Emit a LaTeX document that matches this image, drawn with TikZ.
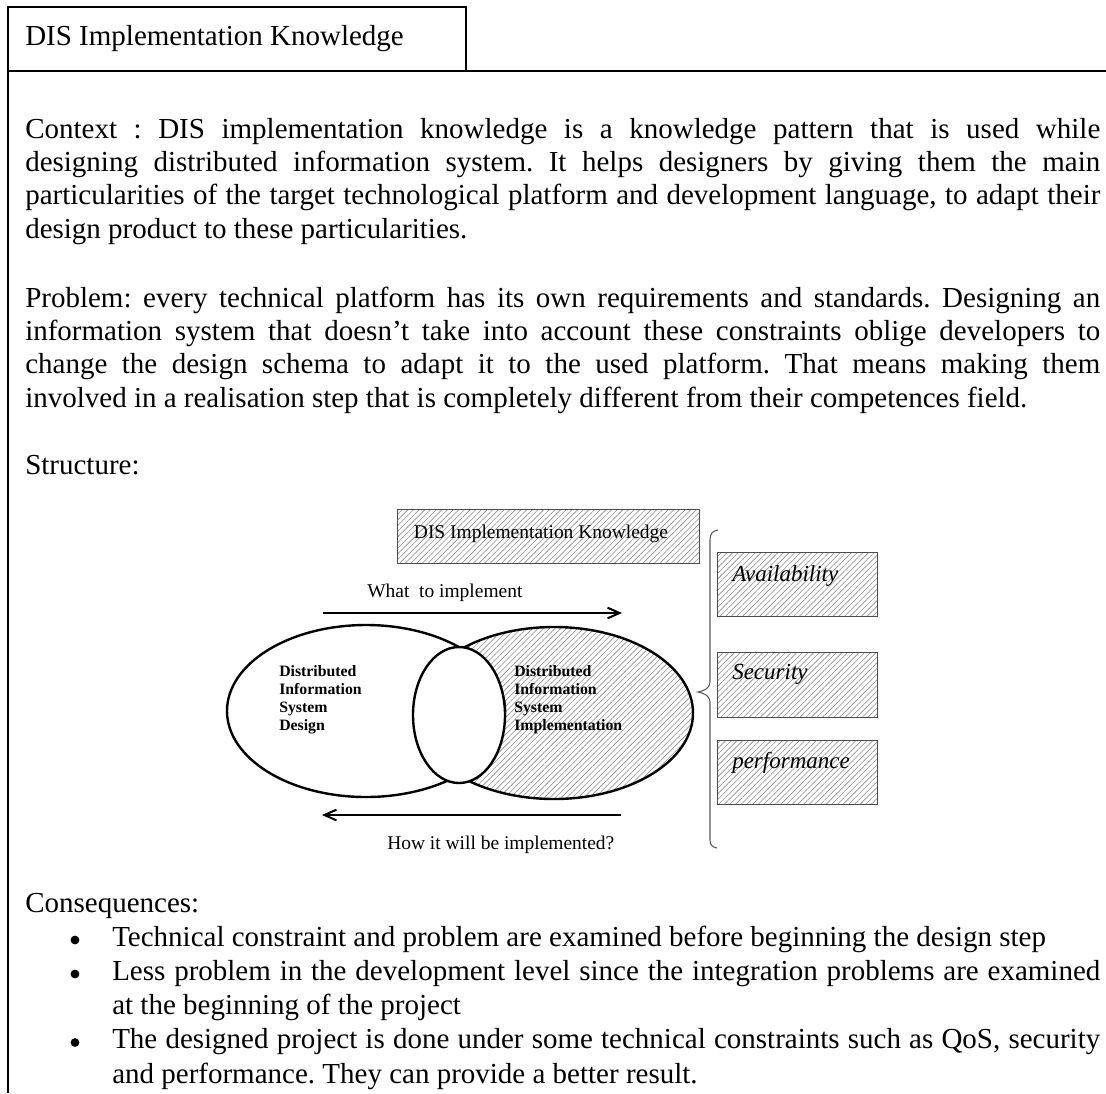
\documentclass[tikz,border=0pt]{standalone}
\usepackage{fontspec}
\setmainfont{Liberation Serif}
\usetikzlibrary{arrows.meta,patterns.meta,shapes.geometric}

% one justified line of the running text, and one inside a list item
\newcommand\jl[1]{\makebox[806.25pt][s]{#1}}
\newcommand\jli[1]{\makebox[741pt][s]{#1}}

\tikzset{
  body/.style={font=\frenchspacing\fontsize{21.75}{25.1}\selectfont, inner sep=0pt, anchor=base west},
  listtext/.style={font=\frenchspacing\fontsize{21.75}{25.6}\selectfont, inner sep=0pt, anchor=base west},
  bulletdot/.style={circle, fill=black, inner sep=0pt, minimum size=6.6pt},
  frame/.style={line width=1pt, draw=black},
  hatched/.style={pattern={Lines[angle=45,distance=3pt,line width=0.45pt]}, pattern color=black!45},
  hatchbox/.style={draw=black!70, line width=0.8pt, hatched, inner sep=0pt, anchor=north west},
  figlabel/.style={font=\fontsize{14.6}{17}\selectfont, inner sep=0pt},
  figbold/.style={font=\bfseries\fontsize{11.85}{13.5}\selectfont, inner sep=0pt, anchor=base west},
  quality/.style={font=\itshape\fontsize{17.25}{20}\selectfont, inner sep=0pt, anchor=base west},
  oval/.style={ellipse, draw=black, line width=1.8pt, inner sep=0pt},
  flow/.style={line width=1.5pt, -{Straight Barb[length=9pt,width=8pt,line width=1.5pt]}},
  brace/.style={draw=black!65, line width=0.8pt},
}

\begin{document}
\begin{tikzpicture}[x=0.75pt, y=-0.75pt]
\useasboundingbox (0,0) rectangle (1106,1093);

% ---- tab and frame of the pattern sheet
\draw[frame] (8,7) rectangle (466,71);
\draw[frame] (1106,71) -- (8,71) -- (8,1093);
\node[body] (title) at (25,45) {DIS Implementation Knowledge};

% ---- context
\node[body] (context) at (25,138) {\parbox[t]{806.25pt}{%
\jl{Context : DIS implementation knowledge is a knowledge pattern that is used while}\\
\jl{designing distributed information system. It helps designers by giving them the main}\\
\jl{particularities of the target technological platform and development language, to adapt their}\\
design product to these particularities.}};

% ---- problem
\node[body] (problem) at (25,307) {\parbox[t]{806.25pt}{%
\jl{Problem: every technical platform has its own requirements and standards. Designing an}\\
\jl{information system that doesn’t take into account these constraints oblige developers to}\\
\jl{change the design schema to adapt it to the used platform. That means making them}\\
involved in a realisation step that is completely different from their competences field.}};

% ---- structure
\node[body] (structure) at (25,474) {Structure:};

% upper knowledge box
\node[hatchbox, minimum width=226.5pt, minimum height=40.5pt] (dik) at (397,509) {};
\node[figlabel, anchor=base] (diklabel) at (541,538) {DIS Implementation Knowledge};

% the two domains and their overlap
\node[oval, hatched, minimum width=208.5pt, minimum height=129pt] (impl) at (554,713) {};
\node[oval, fill=white, minimum width=208.5pt, minimum height=129pt] (design) at (366,711) {};
\node[oval, fill=white, minimum width=69pt, minimum height=102pt] (lens) at (459,715) {};

\node[figbold] (designtext) at (279,676) {\parbox[t]{120pt}{\raggedright Distributed\\Information\\System\\Design}};
\node[figbold] (impltext) at (514,676) {\parbox[t]{120pt}{\raggedright Distributed\\Information\\System\\Implementation}};

% flows between design and implementation
\node[figlabel, anchor=base west] (what) at (367,597) {What\ \ to implement};
\coordinate (wL) at (323,613);
\coordinate (wR) at (622,613);
\draw[flow] (wL) -- (wR);

\coordinate (hR) at (621,815);
\coordinate (hL) at (322,815);
\draw[flow] (hR) -- (hL);
\node[figlabel, anchor=base west] (how) at (387,849) {How it will be implemented?};

% brace grouping the technical qualities
\path[brace] (718,530) .. controls (712,531) and (710,534) .. (710,540)
  -- (710,682) .. controls (710,688) and (704,691) .. (698,692)
  .. controls (704,693) and (710,696) .. (710,702)
  -- (710,840) .. controls (710,845) and (712,847) .. (717,848);

\node[hatchbox, minimum width=120pt, minimum height=48pt] (avail) at (717,552) {};
\node[quality] (availtext) at (732,581) {Availability};
\node[hatchbox, minimum width=120pt, minimum height=48.75pt] (secur) at (717,652) {};
\node[quality] (securtext) at (732,679) {Security};
\node[hatchbox, minimum width=120pt, minimum height=48pt] (perf) at (717,740) {};
\node[quality] (perftext) at (732,768) {performance};

% ---- consequences
\node[body] (consequences) at (25,912) {Consequences:};
\node[bulletdot] (bull1) at (75,940) {};
\node[bulletdot] (bull2) at (75,974) {};
\node[bulletdot] (bull3) at (75,1042.5) {};
\node[listtext] (items) at (112,946.5) {\parbox[t]{741pt}{%
Technical constraint and problem are examined before beginning the design step\\
\jli{Less problem in the development level since the integration problems are examined}\\
at the beginning of the project\\
\jli{The designed project is done under some technical constraints such as QoS, security}\\
and performance. They can provide a better result.}};
\end{tikzpicture}
\end{document}
